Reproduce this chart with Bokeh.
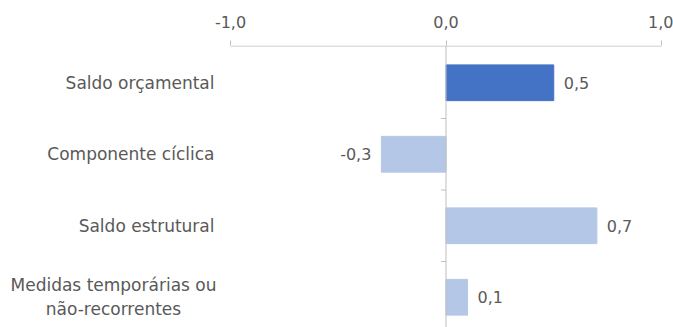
from bokeh.plotting import figure
from bokeh.models import Range1d, FixedTicker, ColumnDataSource, Span
from bokeh.core.properties import value
from bokeh.embed import file_html
from bokeh.resources import INLINE

categories = ["Saldo orçamental", "Componente cíclica", "Saldo estrutural",
              "Medidas temporárias ou\nnão-recorrentes"]
values = [0.5, -0.3, 0.7, 0.1]
colors = ["#4472C4", "#B4C7E7", "#B4C7E7", "#B4C7E7"]
x_ticks = [-1.0, 0.0, 1.0]

FONT = "DejaVu Sans"
GREY = "#595959"
AXIS_GREY = "#BFBFBF"

def fmt(v):
    return f"{v:.1f}".replace(".", ",")

# layout in pixels
W, H = 673, 327
TOP = 45
LABEL_W = 230          # room for category labels left of the value axis
RIGHT_PAD = 12
PX_PER_CAT = 71.5
x_scale = (W - LABEL_W - RIGHT_PAD) / (x_ticks[-1] - x_ticks[0])   # px per unit
x_start = x_ticks[0] - LABEL_W / x_scale
y_top = -0.5 - 1.5 / PX_PER_CAT
y_bottom = y_top + (H - TOP) / PX_PER_CAT

ypos = list(range(len(categories)))
src = ColumnDataSource(dict(
    y=ypos, v=values, c=colors,
    lab=[fmt(v) for v in values],
    align=["left" if v >= 0 else "right" for v in values],
    off=[10 if v >= 0 else -10 for v in values],
))

p = figure(width=W, height=H, output_backend="svg", toolbar_location=None,
           x_range=Range1d(x_start, x_ticks[-1]),
           y_range=Range1d(y_bottom, y_top),
           x_axis_location="above",
           min_border_left=0, min_border_right=RIGHT_PAD, min_border_top=TOP,
           min_border_bottom=0)
p.outline_line_color = None
p.xgrid.visible = False
p.ygrid.visible = False
p.yaxis.visible = False

p.hbar(y="y", right="v", left=0, height=0.5, color="c", source=src)

# value axis line (only over the value range)
p.segment(x0=[x_ticks[0]], x1=[x_ticks[-1]], y0=[y_top + 0.5 / PX_PER_CAT],
          y1=[y_top + 0.5 / PX_PER_CAT], line_color=AXIS_GREY, line_width=1)
# zero line
p.add_layout(Span(location=0, dimension="height", line_color=AXIS_GREY, line_width=1))
# category separator ticks on the zero line
bounds = [i + 0.5 for i in range(len(categories))]
p.segment(x0=[0] * len(bounds), x1=[-5 / x_scale] * len(bounds), y0=bounds, y1=bounds,
          line_color=AXIS_GREY, line_width=1)

# value labels
p.text(x="v", y="y", text="lab", text_align="align", x_offset="off",
       text_baseline="middle", text_font=value(FONT), text_font_size="16px",
       text_color=GREY, source=src)

# category labels
multi = ["\n" in c for c in categories]
cat_src = ColumnDataSource(dict(
    y=ypos, t=categories,
    x=[x_start + (113 if m else LABEL_W - 16) / x_scale for m in multi],
    a=["center" if m else "right" for m in multi],
))
p.text(x="x", y="y", text="t", text_align="a", text_baseline="middle",
       text_font=value(FONT), text_font_size="17px", text_color=GREY,
       text_line_height=1.2, source=cat_src)

xa = p.xaxis[0]
xa.ticker = FixedTicker(ticks=x_ticks)
xa.major_label_overrides = {t: fmt(t) for t in x_ticks}
xa.axis_line_color = None
xa.major_tick_line_color = AXIS_GREY
xa.major_tick_out = 5
xa.major_tick_in = 0
xa.minor_tick_line_color = None
xa.major_label_text_font = FONT
xa.major_label_text_font_size = "16px"
xa.major_label_text_color = GREY
xa.major_label_standoff = 13

open("out.html", "w").write(file_html(p, INLINE))
